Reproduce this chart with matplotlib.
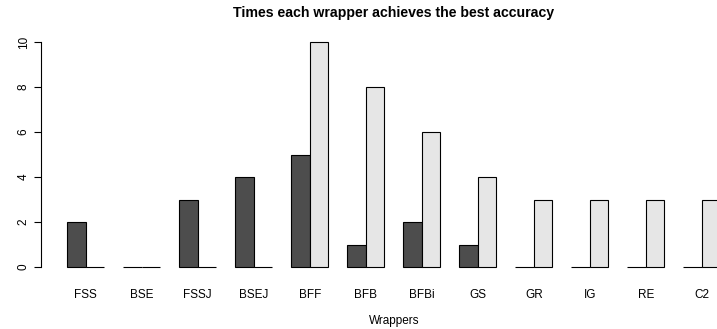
import numpy as np
import matplotlib.pyplot as plt

# -------------------------------
# Data
# -------------------------------
wrappers = ["FSS", "BSE", "FSSJ", "BSEJ", "BFF", "BFB", "BFBi", "GS", "GR", "IG", "RE", "C2"]
series_dark = [2, 0, 3, 4, 5, 1, 2, 1, 0, 0, 0, 0]
series_light = [0, 0, 0, 0, 10, 8, 6, 4, 3, 3, 3, 3]

dark_col = "#4D4D4D"
light_col = "#E6E6E6"

plt.rcParams["font.family"] = ["Liberation Sans", "DejaVu Sans"]

W, H = 717, 329
fig = plt.figure(figsize=(W / 100, H / 100), dpi=100)

# R-style plot region (extends past the right edge, like the original)
left_px, right_px = 40.9, 746.6
top_px, bottom_px = 33.0, 276.0
ax = fig.add_axes([left_px / W, 1 - bottom_px / H,
                   (right_px - left_px) / W, (bottom_px - top_px) / H])

# -------------------------------
# Bars (beside=TRUE, space=c(0,1))
# -------------------------------
n = len(wrappers)
starts = 1 + 3 * np.arange(n)
ax.bar(starts, series_dark, width=1, align="edge", color=dark_col,
       edgecolor="black", linewidth=0.8)
ax.bar(starts + 1, series_light, width=1, align="edge", color=light_col,
       edgecolor="black", linewidth=0.8)

ax.set_xlim(-0.4, 37.4)
ax.set_ylim(-0.4, 10.4)

for s in ["top", "right", "bottom"]:
    ax.spines[s].set_visible(False)
ax.spines["left"].set_bounds(0, 10)
ax.spines["left"].set_linewidth(0.8)

ax.set_yticks([0, 2, 4, 6, 8, 10])
ax.tick_params(axis="y", length=5, width=0.8, pad=3, labelsize=8.5)
for lab in ax.get_yticklabels():
    lab.set_rotation(90)
    lab.set_va("center")

ax.set_xticks(starts + 1)
ax.set_xticklabels(wrappers)
ax.tick_params(axis="x", length=0, pad=9, labelsize=8.5)

fig.text((left_px + right_px) / 2 / W, 1 - 321 / H, "Wrappers",
         ha="center", va="center", fontsize=8.5)
fig.text((left_px + right_px) / 2 / W, 1 - 13 / H,
         "Times each wrapper achieves the best accuracy",
         ha="center", va="center", fontsize=10.2, fontweight="bold")

fig.savefig("out.png", dpi=100)
